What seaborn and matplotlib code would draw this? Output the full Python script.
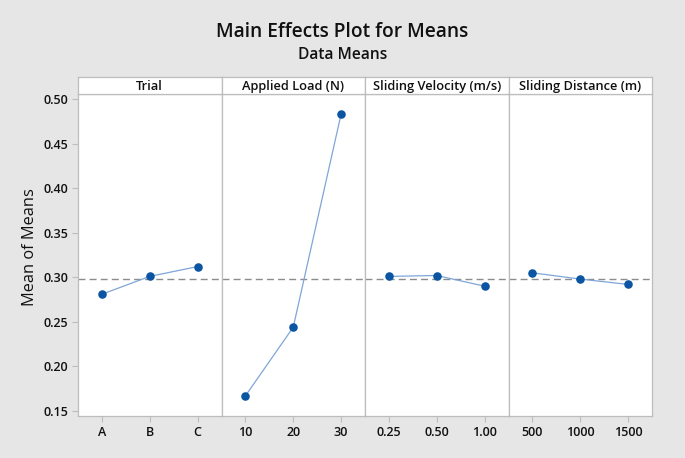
import numpy as np
import pandas as pd
import matplotlib
matplotlib.use("Agg")
import matplotlib.pyplot as plt
import seaborn as sns

# factor levels and mean of means
factors = ["Trial", "Applied Load (N)", "Sliding Velocity (m/s)", "Sliding Distance (m)"]
trial_levels = ["A", "B", "C"]
trial_means = [0.281, 0.301, 0.312]
load_levels = ["10", "20", "30"]
load_means = [0.167, 0.244, 0.483]
velocity_levels = ["0.25", "0.50", "1.00"]
velocity_means = [0.301, 0.302, 0.290]
distance_levels = ["500", "1000", "1500"]
distance_means = [0.305, 0.298, 0.292]
grand_mean = 0.298
y_ticks = [0.15, 0.20, 0.25, 0.30, 0.35, 0.40, 0.45, 0.50]

levels = [trial_levels, load_levels, velocity_levels, distance_levels]
means = [trial_means, load_means, velocity_means, distance_means]

sns.set_theme(style="white")
plt.rcParams["font.family"] = ["Open Sans", "DejaVu Sans"]

BG = "#e6e6e6"
FRAME = "#bdbdbd"
LINE_C = "#7ea6d8"
DOT_C = "#0b55a3"
TXT = "#111111"

fig = plt.figure(figsize=(6.85, 4.58), dpi=100, facecolor=BG)

L, R = 78 / 685, 652 / 685
B, T = 1 - 416 / 458, 1 - 94 / 458
HT = 1 - 77 / 458
w = (R - L) / 4

for i, (name, lv, mv) in enumerate(zip(factors, levels, means)):
    ax = fig.add_axes([L + i * w, B, w, T - B])
    df = pd.DataFrame({"level": lv, "mean": mv})
    sns.lineplot(data=df, x="level", y="mean", ax=ax, color=LINE_C, lw=0.9, sort=False)
    sns.scatterplot(data=df, x="level", y="mean", ax=ax, color=DOT_C, s=38,
                    edgecolor=DOT_C, linewidth=0, zorder=3)
    ax.axhline(grand_mean, color="#8c8c8c", ls=(0, (5, 3)), lw=1.0, zorder=1)
    ax.set_xlim(-0.5, 2.5)
    ax.set_ylim(0.1444, 0.5056)
    ax.set_xticks(range(len(lv)))
    ax.set_xticklabels(lv, fontsize=9, color=TXT, fontweight="semibold")
    ax.set_xlabel("")
    ax.set_ylabel("")
    ax.set_facecolor("white")
    for s in ax.spines.values():
        s.set_color(FRAME)
        s.set_linewidth(0.9)
    ax.tick_params(axis="x", direction="out", length=4, width=0.8, color=FRAME,
                   bottom=True, pad=3)
    if i == 0:
        ax.set_yticks(y_ticks)
        ax.set_yticklabels([f"{v:.2f}" for v in y_ticks], fontsize=9, color=TXT,
                           fontweight="semibold")
        ax.tick_params(axis="y", direction="out", length=4, width=0.8, color=FRAME,
                       left=True, pad=3)
    else:
        ax.set_yticks([])

    # header strip
    hx = fig.add_axes([L + i * w, T, w, HT - T])
    hx.set_facecolor("white")
    hx.set_xticks([])
    hx.set_yticks([])
    for s in hx.spines.values():
        s.set_color(FRAME)
        s.set_linewidth(0.9)
    hx.text(0.5, 0.45, name, ha="center", va="center", fontsize=9.3,
            color=TXT, fontweight="semibold", transform=hx.transAxes)

fig.text(30 / 685, 1 - 247 / 458, "Mean of Means", rotation=90, ha="center", va="center",
         fontsize=11.8, color=TXT, fontweight="medium")
fig.text(0.5, 1 - 32 / 458, "Main Effects Plot for Means", ha="center", va="center",
         fontsize=13.8, color=TXT, fontweight="semibold")
fig.text(0.5, 1 - 55 / 458, "Data Means", ha="center", va="center",
         fontsize=11.2, color=TXT, fontweight="semibold")

fig.savefig("out.png", dpi=100, facecolor=BG)
